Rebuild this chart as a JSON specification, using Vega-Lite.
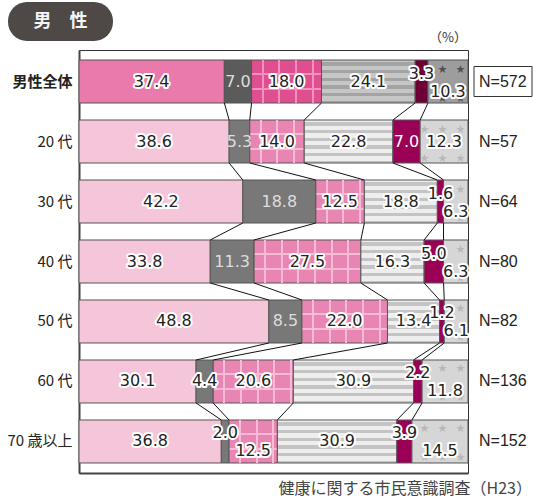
{
  "$schema": "https://vega.github.io/schema/vega-lite/v6.json",
  "width": 389,
  "height": 423,
  "autosize": {"type": "none"},
  "padding": {"left": 79, "top": 50, "right": 66, "bottom": 27},
  "background": "white",
  "config": {
    "view": {"stroke": "#333333", "strokeWidth": 1},
    "text": {"font": "DejaVu Sans"}
  },
  "datasets": {
    "seg": [
      {"row": "男性全体", "i": 0, "cat": 1, "v": 37.4},
      {"row": "男性全体", "i": 0, "cat": 2, "v": 7.0},
      {"row": "男性全体", "i": 0, "cat": 3, "v": 18.0},
      {"row": "男性全体", "i": 0, "cat": 4, "v": 24.1},
      {"row": "男性全体", "i": 0, "cat": 5, "v": 3.3},
      {"row": "男性全体", "i": 0, "cat": 6, "v": 10.3},
      {"row": "20 代", "i": 1, "cat": 1, "v": 38.6},
      {"row": "20 代", "i": 1, "cat": 2, "v": 5.3},
      {"row": "20 代", "i": 1, "cat": 3, "v": 14.0},
      {"row": "20 代", "i": 1, "cat": 4, "v": 22.8},
      {"row": "20 代", "i": 1, "cat": 5, "v": 7.0},
      {"row": "20 代", "i": 1, "cat": 6, "v": 12.3},
      {"row": "30 代", "i": 2, "cat": 1, "v": 42.2},
      {"row": "30 代", "i": 2, "cat": 2, "v": 18.8},
      {"row": "30 代", "i": 2, "cat": 3, "v": 12.5},
      {"row": "30 代", "i": 2, "cat": 4, "v": 18.8},
      {"row": "30 代", "i": 2, "cat": 5, "v": 1.6},
      {"row": "30 代", "i": 2, "cat": 6, "v": 6.3},
      {"row": "40 代", "i": 3, "cat": 1, "v": 33.8},
      {"row": "40 代", "i": 3, "cat": 2, "v": 11.3},
      {"row": "40 代", "i": 3, "cat": 3, "v": 27.5},
      {"row": "40 代", "i": 3, "cat": 4, "v": 16.3},
      {"row": "40 代", "i": 3, "cat": 5, "v": 5.0},
      {"row": "40 代", "i": 3, "cat": 6, "v": 6.3},
      {"row": "50 代", "i": 4, "cat": 1, "v": 48.8},
      {"row": "50 代", "i": 4, "cat": 2, "v": 8.5},
      {"row": "50 代", "i": 4, "cat": 3, "v": 22.0},
      {"row": "50 代", "i": 4, "cat": 4, "v": 13.4},
      {"row": "50 代", "i": 4, "cat": 5, "v": 1.2},
      {"row": "50 代", "i": 4, "cat": 6, "v": 6.1},
      {"row": "60 代", "i": 5, "cat": 1, "v": 30.1},
      {"row": "60 代", "i": 5, "cat": 2, "v": 4.4},
      {"row": "60 代", "i": 5, "cat": 3, "v": 20.6},
      {"row": "60 代", "i": 5, "cat": 4, "v": 30.9},
      {"row": "60 代", "i": 5, "cat": 5, "v": 2.2},
      {"row": "60 代", "i": 5, "cat": 6, "v": 11.8},
      {"row": "70 歳以上", "i": 6, "cat": 1, "v": 36.8},
      {"row": "70 歳以上", "i": 6, "cat": 2, "v": 2.0},
      {"row": "70 歳以上", "i": 6, "cat": 3, "v": 12.5},
      {"row": "70 歳以上", "i": 6, "cat": 4, "v": 30.9},
      {"row": "70 歳以上", "i": 6, "cat": 5, "v": 3.9},
      {"row": "70 歳以上", "i": 6, "cat": 6, "v": 14.5}
    ],
    "rows": [
      {"row": "男性全体", "n": "N=572"},
      {"row": "20 代", "n": "N=57"},
      {"row": "30 代", "n": "N=64"},
      {"row": "40 代", "n": "N=80"},
      {"row": "50 代", "n": "N=82"},
      {"row": "60 代", "n": "N=136"},
      {"row": "70 歳以上", "n": "N=152"}
    ]
  },
  "data": {"name": "seg"},
  "transform": [
    {"stack": "v", "groupby": ["row"], "sort": [{"field": "cat"}], "offset": "normalize", "as": ["x0", "x1"]}
  ],
  "layer": [
    {
      "mark": {"type": "bar", "stroke": "#555555", "strokeWidth": 1},
      "encoding": {
        "x": {
          "field": "x0", "type": "quantitative",
          "scale": {"domain": [0, 1], "nice": false, "zero": true},
          "axis": {"title": null, "labels": false, "ticks": false, "grid": false, "domain": true, "domainColor": "#444444", "domainWidth": 2}
        },
        "x2": {"field": "x1"},
        "y": {
          "field": "row", "type": "nominal",
          "scale": {"domain": ["男性全体", "20 代", "30 代", "40 代", "50 代", "60 代", "70 歳以上"], "paddingInner": 0.2833, "paddingOuter": 0.1667},
          "axis": {
            "title": null, "ticks": false, "domain": true, "domainColor": "#444444", "domainWidth": 2,
            "labelFont": "Noto Sans CJK JP", "labelFontSize": 15, "labelColor": "#222222", "labelPadding": 7,
            "labelFontWeight": {"condition": {"test": "datum.value == '男性全体'", "value": "bold"}, "value": "normal"}
          }
        },
        "fill": {
          "condition": [
            {"test": "datum.cat == 1 && datum.i == 0", "value": "#EB7AAC"},
            {"test": "datum.cat == 1", "value": "#F5C6DA"},
            {"test": "datum.cat == 2 && datum.i == 0", "value": "#5B5B5B"},
            {"test": "datum.cat == 2", "value": "#787878"},
            {"test": "datum.cat == 3 && datum.i == 0", "value": {"gradient": "linear", "x1": 0, "y1": 0, "x2": 0, "y2": 1, "stops": [
              {"offset": 0, "color": "#DF4F90"}, {"offset": 0.31, "color": "#DF4F90"}, {"offset": 0.31, "color": "#F291BF"}, {"offset": 0.36, "color": "#F291BF"},
              {"offset": 0.36, "color": "#DF4F90"}, {"offset": 0.64, "color": "#DF4F90"}, {"offset": 0.64, "color": "#F291BF"}, {"offset": 0.69, "color": "#F291BF"},
              {"offset": 0.69, "color": "#DF4F90"}, {"offset": 1, "color": "#DF4F90"}]}},
            {"test": "datum.cat == 3", "value": {"gradient": "linear", "x1": 0, "y1": 0, "x2": 0, "y2": 1, "stops": [
              {"offset": 0, "color": "#E985B2"}, {"offset": 0.31, "color": "#E985B2"}, {"offset": 0.31, "color": "#F6BCD5"}, {"offset": 0.36, "color": "#F6BCD5"},
              {"offset": 0.36, "color": "#E985B2"}, {"offset": 0.64, "color": "#E985B2"}, {"offset": 0.64, "color": "#F6BCD5"}, {"offset": 0.69, "color": "#F6BCD5"},
              {"offset": 0.69, "color": "#E985B2"}, {"offset": 1, "color": "#E985B2"}]}},
            {"test": "datum.cat == 4 && datum.i == 0", "value": {"gradient": "linear", "x1": 0, "y1": 0, "x2": 0, "y2": 1, "stops": [
              {"offset": 0, "color": "#C6C6C6"}, {"offset": 0.053, "color": "#C6C6C6"}, {"offset": 0.053, "color": "#A3A3A3"}, {"offset": 0.132, "color": "#A3A3A3"},
              {"offset": 0.132, "color": "#C6C6C6"}, {"offset": 0.232, "color": "#C6C6C6"}, {"offset": 0.232, "color": "#A3A3A3"}, {"offset": 0.311, "color": "#A3A3A3"},
              {"offset": 0.311, "color": "#C6C6C6"}, {"offset": 0.411, "color": "#C6C6C6"}, {"offset": 0.411, "color": "#A3A3A3"}, {"offset": 0.49, "color": "#A3A3A3"},
              {"offset": 0.49, "color": "#C6C6C6"}, {"offset": 0.59, "color": "#C6C6C6"}, {"offset": 0.59, "color": "#A3A3A3"}, {"offset": 0.669, "color": "#A3A3A3"},
              {"offset": 0.669, "color": "#C6C6C6"}, {"offset": 0.769, "color": "#C6C6C6"}, {"offset": 0.769, "color": "#A3A3A3"}, {"offset": 0.848, "color": "#A3A3A3"},
              {"offset": 0.848, "color": "#C6C6C6"}, {"offset": 0.948, "color": "#C6C6C6"}, {"offset": 0.948, "color": "#A3A3A3"}, {"offset": 1, "color": "#A3A3A3"}]}},
            {"test": "datum.cat == 4", "value": {"gradient": "linear", "x1": 0, "y1": 0, "x2": 0, "y2": 1, "stops": [
              {"offset": 0, "color": "#EEEEEE"}, {"offset": 0.053, "color": "#EEEEEE"}, {"offset": 0.053, "color": "#C4C4C4"}, {"offset": 0.132, "color": "#C4C4C4"},
              {"offset": 0.132, "color": "#EEEEEE"}, {"offset": 0.232, "color": "#EEEEEE"}, {"offset": 0.232, "color": "#C4C4C4"}, {"offset": 0.311, "color": "#C4C4C4"},
              {"offset": 0.311, "color": "#EEEEEE"}, {"offset": 0.411, "color": "#EEEEEE"}, {"offset": 0.411, "color": "#C4C4C4"}, {"offset": 0.49, "color": "#C4C4C4"},
              {"offset": 0.49, "color": "#EEEEEE"}, {"offset": 0.59, "color": "#EEEEEE"}, {"offset": 0.59, "color": "#C4C4C4"}, {"offset": 0.669, "color": "#C4C4C4"},
              {"offset": 0.669, "color": "#EEEEEE"}, {"offset": 0.769, "color": "#EEEEEE"}, {"offset": 0.769, "color": "#C4C4C4"}, {"offset": 0.848, "color": "#C4C4C4"},
              {"offset": 0.848, "color": "#EEEEEE"}, {"offset": 0.948, "color": "#EEEEEE"}, {"offset": 0.948, "color": "#C4C4C4"}, {"offset": 1, "color": "#C4C4C4"}]}},
            {"test": "datum.cat == 5 && datum.i == 0", "value": "#6B0035"},
            {"test": "datum.cat == 5", "value": "#9A0056"},
            {"test": "datum.i == 0", "value": "#9D9D9D"}
          ],
          "value": "#D6D6D6"
        }
      }
    },
    {
      "transform": [{"filter": "datum.cat == 3"}],
      "mark": {"type": "bar", "strokeWidth": 0},
      "encoding": {
        "x": {"field": "x0", "type": "quantitative"},
        "x2": {"field": "x1"},
        "y": {"field": "row", "type": "nominal"},
        "fill": {
          "condition": [
            {"test": "datum.i == 0", "value": {"gradient": "linear", "x1": 0, "y1": 0, "x2": 1, "y2": 0, "stops": [
              {"offset": 0, "color": "rgba(255,255,255,0)"}, {"offset": 0.143, "color": "rgba(255,255,255,0)"}, {"offset": 0.143, "color": "#F291BF"}, {"offset": 0.171, "color": "#F291BF"},
              {"offset": 0.171, "color": "rgba(255,255,255,0)"}, {"offset": 0.381, "color": "rgba(255,255,255,0)"}, {"offset": 0.381, "color": "#F291BF"}, {"offset": 0.41, "color": "#F291BF"},
              {"offset": 0.41, "color": "rgba(255,255,255,0)"}, {"offset": 0.62, "color": "rgba(255,255,255,0)"}, {"offset": 0.62, "color": "#F291BF"}, {"offset": 0.649, "color": "#F291BF"},
              {"offset": 0.649, "color": "rgba(255,255,255,0)"}, {"offset": 0.859, "color": "rgba(255,255,255,0)"}, {"offset": 0.859, "color": "#F291BF"}, {"offset": 0.887, "color": "#F291BF"},
              {"offset": 0.887, "color": "rgba(255,255,255,0)"}, {"offset": 1, "color": "rgba(255,255,255,0)"}]}},
            {"test": "datum.v < 13", "value": {"gradient": "linear", "x1": 0, "y1": 0, "x2": 1, "y2": 0, "stops": [
              {"offset": 0, "color": "rgba(255,255,255,0)"}, {"offset": 0.206, "color": "rgba(255,255,255,0)"}, {"offset": 0.206, "color": "#F6BCD5"}, {"offset": 0.247, "color": "#F6BCD5"},
              {"offset": 0.247, "color": "rgba(255,255,255,0)"}, {"offset": 0.549, "color": "rgba(255,255,255,0)"}, {"offset": 0.549, "color": "#F6BCD5"}, {"offset": 0.591, "color": "#F6BCD5"},
              {"offset": 0.591, "color": "rgba(255,255,255,0)"}, {"offset": 0.893, "color": "rgba(255,255,255,0)"}, {"offset": 0.893, "color": "#F6BCD5"}, {"offset": 0.934, "color": "#F6BCD5"},
              {"offset": 0.934, "color": "rgba(255,255,255,0)"}, {"offset": 1, "color": "rgba(255,255,255,0)"}]}},
            {"test": "datum.v < 16", "value": {"gradient": "linear", "x1": 0, "y1": 0, "x2": 1, "y2": 0, "stops": [
              {"offset": 0, "color": "rgba(255,255,255,0)"}, {"offset": 0.183, "color": "rgba(255,255,255,0)"}, {"offset": 0.183, "color": "#F6BCD5"}, {"offset": 0.22, "color": "#F6BCD5"},
              {"offset": 0.22, "color": "rgba(255,255,255,0)"}, {"offset": 0.49, "color": "rgba(255,255,255,0)"}, {"offset": 0.49, "color": "#F6BCD5"}, {"offset": 0.527, "color": "#F6BCD5"},
              {"offset": 0.527, "color": "rgba(255,255,255,0)"}, {"offset": 0.796, "color": "rgba(255,255,255,0)"}, {"offset": 0.796, "color": "#F6BCD5"}, {"offset": 0.833, "color": "#F6BCD5"},
              {"offset": 0.833, "color": "rgba(255,255,255,0)"}, {"offset": 1, "color": "rgba(255,255,255,0)"}]}},
            {"test": "datum.v < 21", "value": {"gradient": "linear", "x1": 0, "y1": 0, "x2": 1, "y2": 0, "stops": [
              {"offset": 0, "color": "rgba(255,255,255,0)"}, {"offset": 0.125, "color": "rgba(255,255,255,0)"}, {"offset": 0.125, "color": "#F6BCD5"}, {"offset": 0.15, "color": "#F6BCD5"},
              {"offset": 0.15, "color": "rgba(255,255,255,0)"}, {"offset": 0.333, "color": "rgba(255,255,255,0)"}, {"offset": 0.333, "color": "#F6BCD5"}, {"offset": 0.358, "color": "#F6BCD5"},
              {"offset": 0.358, "color": "rgba(255,255,255,0)"}, {"offset": 0.542, "color": "rgba(255,255,255,0)"}, {"offset": 0.542, "color": "#F6BCD5"}, {"offset": 0.567, "color": "#F6BCD5"},
              {"offset": 0.567, "color": "rgba(255,255,255,0)"}, {"offset": 0.75, "color": "rgba(255,255,255,0)"}, {"offset": 0.75, "color": "#F6BCD5"}, {"offset": 0.775, "color": "#F6BCD5"},
              {"offset": 0.775, "color": "rgba(255,255,255,0)"}, {"offset": 0.959, "color": "rgba(255,255,255,0)"}, {"offset": 0.959, "color": "#F6BCD5"}, {"offset": 0.984, "color": "#F6BCD5"},
              {"offset": 0.984, "color": "rgba(255,255,255,0)"}, {"offset": 1, "color": "rgba(255,255,255,0)"}]}},
            {"test": "datum.v < 24", "value": {"gradient": "linear", "x1": 0, "y1": 0, "x2": 1, "y2": 0, "stops": [
              {"offset": 0, "color": "rgba(255,255,255,0)"}, {"offset": 0.117, "color": "rgba(255,255,255,0)"}, {"offset": 0.117, "color": "#F6BCD5"}, {"offset": 0.14, "color": "#F6BCD5"},
              {"offset": 0.14, "color": "rgba(255,255,255,0)"}, {"offset": 0.312, "color": "rgba(255,255,255,0)"}, {"offset": 0.312, "color": "#F6BCD5"}, {"offset": 0.335, "color": "#F6BCD5"},
              {"offset": 0.335, "color": "rgba(255,255,255,0)"}, {"offset": 0.507, "color": "rgba(255,255,255,0)"}, {"offset": 0.507, "color": "#F6BCD5"}, {"offset": 0.53, "color": "#F6BCD5"},
              {"offset": 0.53, "color": "rgba(255,255,255,0)"}, {"offset": 0.702, "color": "rgba(255,255,255,0)"}, {"offset": 0.702, "color": "#F6BCD5"}, {"offset": 0.726, "color": "#F6BCD5"},
              {"offset": 0.726, "color": "rgba(255,255,255,0)"}, {"offset": 0.897, "color": "rgba(255,255,255,0)"}, {"offset": 0.897, "color": "#F6BCD5"}, {"offset": 0.921, "color": "#F6BCD5"},
              {"offset": 0.921, "color": "rgba(255,255,255,0)"}, {"offset": 1, "color": "rgba(255,255,255,0)"}]}}
          ],
          "value": {"gradient": "linear", "x1": 0, "y1": 0, "x2": 1, "y2": 0, "stops": [
            {"offset": 0, "color": "rgba(255,255,255,0)"}, {"offset": 0.093, "color": "rgba(255,255,255,0)"}, {"offset": 0.093, "color": "#F6BCD5"}, {"offset": 0.112, "color": "#F6BCD5"},
            {"offset": 0.112, "color": "rgba(255,255,255,0)"}, {"offset": 0.25, "color": "rgba(255,255,255,0)"}, {"offset": 0.25, "color": "#F6BCD5"}, {"offset": 0.268, "color": "#F6BCD5"},
            {"offset": 0.268, "color": "rgba(255,255,255,0)"}, {"offset": 0.406, "color": "rgba(255,255,255,0)"}, {"offset": 0.406, "color": "#F6BCD5"}, {"offset": 0.424, "color": "#F6BCD5"},
            {"offset": 0.424, "color": "rgba(255,255,255,0)"}, {"offset": 0.562, "color": "rgba(255,255,255,0)"}, {"offset": 0.562, "color": "#F6BCD5"}, {"offset": 0.58, "color": "#F6BCD5"},
            {"offset": 0.58, "color": "rgba(255,255,255,0)"}, {"offset": 0.718, "color": "rgba(255,255,255,0)"}, {"offset": 0.718, "color": "#F6BCD5"}, {"offset": 0.736, "color": "#F6BCD5"},
            {"offset": 0.736, "color": "rgba(255,255,255,0)"}, {"offset": 0.874, "color": "rgba(255,255,255,0)"}, {"offset": 0.874, "color": "#F6BCD5"}, {"offset": 0.893, "color": "#F6BCD5"},
            {"offset": 0.893, "color": "rgba(255,255,255,0)"}, {"offset": 1, "color": "rgba(255,255,255,0)"}]}
        }
      }
    },
    {
      "transform": [
        {"window": [{"op": "lead", "field": "x1", "as": "nx"}, {"op": "lead", "field": "row", "as": "nrow"}], "groupby": ["cat"], "sort": [{"field": "i"}]},
        {"filter": "datum.cat < 6 && datum.nrow != null"}
      ],
      "mark": {"type": "rule", "color": "#111111", "strokeWidth": 1},
      "encoding": {
        "x": {"field": "x1", "type": "quantitative"},
        "x2": {"field": "nx"},
        "y": {"field": "row", "type": "nominal", "bandPosition": 1},
        "y2": {"field": "nrow", "bandPosition": 0}
      }
    },
    {
      "mark": {"type": "text", "align": "right", "baseline": "middle", "dx": -3, "dy": -13, "fontSize": 9, "font": "Noto Sans CJK JP"},
      "encoding": {
        "x": {"field": "v", "type": "quantitative", "stack": "normalize", "bandPosition": 1},
        "y": {"field": "row", "type": "nominal"},
        "order": {"field": "cat", "type": "quantitative"},
        "text": {"condition": [{"test": "datum.cat != 6", "value": ""}, {"test": "datum.v < 8", "value": "★"}, {"test": "datum.v < 12", "value": "★　★"}], "value": "★　★　★"},
        "fill": {"condition": {"test": "datum.i == 0", "value": "#505050"}, "value": "#B8B8B8"}
      }
    },
    {
      "mark": {"type": "text", "align": "right", "baseline": "middle", "dx": -3, "dy": 16, "fontSize": 9, "font": "Noto Sans CJK JP"},
      "encoding": {
        "x": {"field": "v", "type": "quantitative", "stack": "normalize", "bandPosition": 1},
        "y": {"field": "row", "type": "nominal"},
        "order": {"field": "cat", "type": "quantitative"},
        "text": {"condition": [{"test": "datum.cat != 6", "value": ""}, {"test": "datum.v < 8", "value": "★"}, {"test": "datum.v < 12", "value": "★　★"}], "value": "★　★　★"},
        "fill": {"condition": {"test": "datum.i == 0", "value": "#505050"}, "value": "#B8B8B8"}
      }
    },
    {
      "mark": {"type": "text", "align": "center", "baseline": "middle", "fontSize": 16, "stroke": "white", "strokeWidth": 4, "strokeJoin": "round", "fill": "white"},
      "encoding": {
        "x": {"field": "v", "type": "quantitative", "stack": "normalize", "bandPosition": 0.5},
        "y": {"field": "row", "type": "nominal"},
        "order": {"field": "cat", "type": "quantitative"},
        "text": {"condition": {"test": "(datum.cat == 5 && datum.v <= 5) || (datum.cat == 2 && datum.v < 3) || (datum.cat == 6 && datum.i != 1) || (datum.cat == 3 && datum.i == 6) || ((datum.cat == 2 || datum.cat == 5) && datum.v > 5)", "value": ""}, "field": "v", "type": "quantitative", "format": ".1f"}
      }
    },
    {
      "mark": {"type": "text", "align": "center", "baseline": "middle", "fontSize": 16},
      "encoding": {
        "x": {"field": "v", "type": "quantitative", "stack": "normalize", "bandPosition": 0.5},
        "y": {"field": "row", "type": "nominal"},
        "order": {"field": "cat", "type": "quantitative"},
        "text": {"condition": {"test": "(datum.cat == 5 && datum.v <= 5) || (datum.cat == 2 && datum.v < 3) || (datum.cat == 6 && datum.i != 1) || (datum.cat == 3 && datum.i == 6)", "value": ""}, "field": "v", "type": "quantitative", "format": ".1f"},
        "fill": {"condition": [{"test": "datum.cat == 2 && datum.v > 5", "value": "#DDDDDD"}, {"test": "datum.cat == 5 && datum.v > 5", "value": "#FFFFFF"}], "value": "#222222"}
      }
    },
    {
      "mark": {"type": "text", "align": "center", "baseline": "middle", "dy": -8, "fontSize": 16, "stroke": "white", "strokeWidth": 4, "strokeJoin": "round", "fill": "white"},
      "encoding": {
        "x": {"field": "v", "type": "quantitative", "stack": "normalize", "bandPosition": 0.5},
        "y": {"field": "row", "type": "nominal"},
        "order": {"field": "cat", "type": "quantitative"},
        "text": {"condition": {"test": "!((datum.cat == 5 && datum.v <= 5) || (datum.cat == 2 && datum.v < 3))", "value": ""}, "field": "v", "type": "quantitative", "format": ".1f"}
      }
    },
    {
      "mark": {"type": "text", "align": "center", "baseline": "middle", "dy": -8, "fontSize": 16, "fill": "#222222"},
      "encoding": {
        "x": {"field": "v", "type": "quantitative", "stack": "normalize", "bandPosition": 0.5},
        "y": {"field": "row", "type": "nominal"},
        "order": {"field": "cat", "type": "quantitative"},
        "text": {"condition": {"test": "!((datum.cat == 5 && datum.v <= 5) || (datum.cat == 2 && datum.v < 3))", "value": ""}, "field": "v", "type": "quantitative", "format": ".1f"}
      }
    },
    {
      "mark": {"type": "text", "align": "center", "baseline": "middle", "dy": 10, "fontSize": 16, "stroke": "white", "strokeWidth": 4, "strokeJoin": "round", "fill": "white"},
      "encoding": {
        "x": {"field": "v", "type": "quantitative", "stack": "normalize", "bandPosition": 0.5},
        "y": {"field": "row", "type": "nominal"},
        "order": {"field": "cat", "type": "quantitative"},
        "text": {"condition": {"test": "!((datum.cat == 6 && datum.i != 1) || (datum.cat == 3 && datum.i == 6))", "value": ""}, "field": "v", "type": "quantitative", "format": ".1f"}
      }
    },
    {
      "mark": {"type": "text", "align": "center", "baseline": "middle", "dy": 10, "fontSize": 16, "fill": "#222222"},
      "encoding": {
        "x": {"field": "v", "type": "quantitative", "stack": "normalize", "bandPosition": 0.5},
        "y": {"field": "row", "type": "nominal"},
        "order": {"field": "cat", "type": "quantitative"},
        "text": {"condition": {"test": "!((datum.cat == 6 && datum.i != 1) || (datum.cat == 3 && datum.i == 6))", "value": ""}, "field": "v", "type": "quantitative", "format": ".1f"}
      }
    },
    {
      "data": {"name": "rows"},
      "transform": [{"filter": "datum.row == '男性全体'"}],
      "mark": {"type": "bar", "fill": "white", "stroke": "#333333", "strokeWidth": 1, "height": 30, "xOffset": 6, "x2Offset": 64},
      "encoding": {
        "x": {"datum": 1},
        "x2": {"datum": 1},
        "y": {"field": "row", "type": "nominal"}
      }
    },
    {
      "data": {"name": "rows"},
      "mark": {"type": "text", "align": "left", "baseline": "middle", "dx": 11, "fontSize": 16, "font": "Liberation Sans", "fill": "#222222"},
      "encoding": {
        "x": {"datum": 1},
        "y": {"field": "row", "type": "nominal"},
        "text": {"field": "n"}
      }
    },
    {
      "data": {"name": "rows"},
      "transform": [{"filter": "datum.row == '男性全体'"}],
      "mark": {"type": "bar", "fill": "#4E4846", "height": 39, "yOffset": -60, "xOffset": -71, "x2Offset": 34, "cornerRadius": 19},
      "encoding": {
        "x": {"datum": 0},
        "x2": {"datum": 0},
        "y": {"field": "row", "type": "nominal"}
      }
    },
    {
      "data": {"name": "rows"},
      "transform": [{"filter": "datum.row == '男性全体'"}],
      "mark": {"type": "text", "text": "男　性", "align": "center", "baseline": "middle", "dx": -18.5, "dy": -60, "fontSize": 18, "font": "Noto Sans CJK JP", "fontWeight": "bold", "fill": "#F4F4F4"},
      "encoding": {
        "x": {"datum": 0},
        "y": {"field": "row", "type": "nominal"}
      }
    },
    {
      "data": {"name": "rows"},
      "transform": [{"filter": "datum.row == '男性全体'"}],
      "mark": {"type": "text", "text": "（%）", "align": "right", "baseline": "middle", "dx": -1, "dy": -44, "fontSize": 13, "font": "Noto Sans CJK JP", "fill": "#333333"},
      "encoding": {
        "x": {"datum": 1},
        "y": {"field": "row", "type": "nominal"}
      }
    },
    {
      "data": {"name": "rows"},
      "transform": [{"filter": "datum.row == '70 歳以上'"}],
      "mark": {"type": "text", "text": "健康に関する市民意識調査（H23）", "align": "right", "baseline": "middle", "dx": 64, "dy": 47.5, "fontSize": 16, "font": "Noto Sans CJK JP", "fill": "#444444"},
      "encoding": {
        "x": {"datum": 1},
        "y": {"field": "row", "type": "nominal"}
      }
    }
  ]
}
